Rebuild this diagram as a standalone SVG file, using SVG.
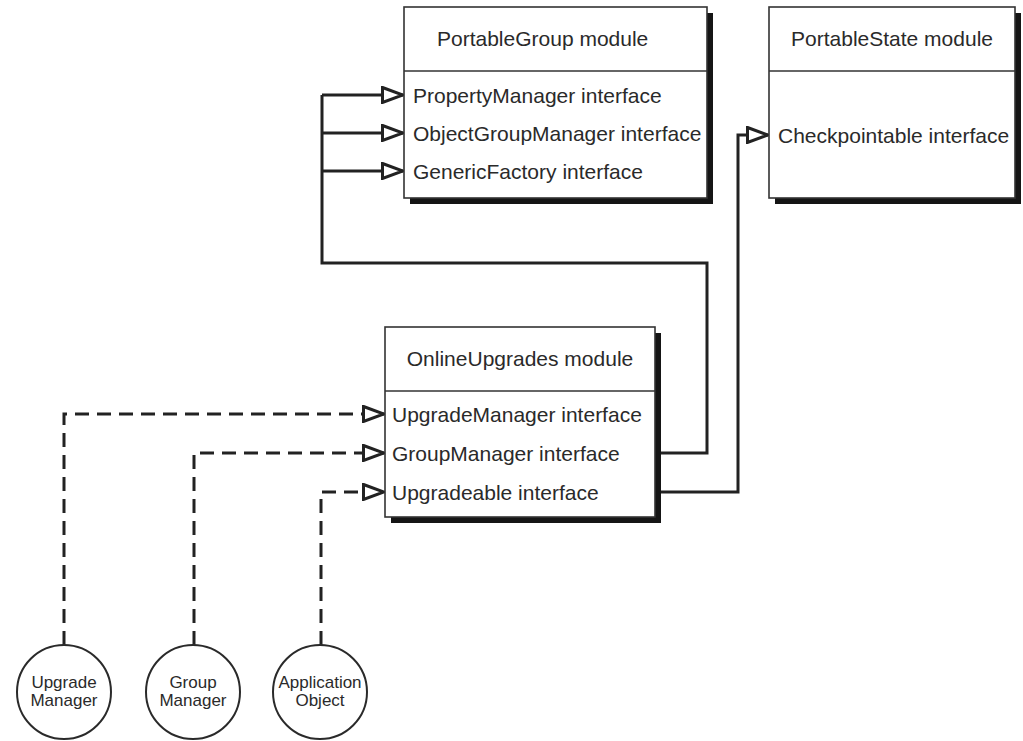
<svg xmlns="http://www.w3.org/2000/svg" width="1023" height="741" viewBox="0 0 1023 741">
<style>
.bg{fill:#ffffff}
.shadow{fill:#151515}
.box{fill:#ffffff;stroke:#333;stroke-width:1.6}
.div{stroke:#333;stroke-width:1.6}
.t{font-family:"Liberation Sans",Arial,Helvetica,sans-serif;font-size:21px;fill:#2a2a2a}
.c{font-family:"Liberation Sans",Arial,Helvetica,sans-serif;font-size:17px;fill:#2a2a2a;text-anchor:middle}
.circ{fill:#ffffff;stroke:#2a2a2a;stroke-width:2}
.solid{fill:none;stroke:#222;stroke-width:3}
.dash{fill:none;stroke:#222;stroke-width:3;stroke-dasharray:14 8}
</style>
<defs>
<marker id="tri" viewBox="0 0 24 18" refX="22" refY="9" markerWidth="24" markerHeight="18" markerUnits="userSpaceOnUse" orient="auto">
<path d="M1.5,1.5 L22,9 L1.5,16.5 Z" fill="#ffffff" stroke="#222" stroke-width="3" stroke-dasharray="none" stroke-linejoin="miter"/>
</marker>
</defs>
<rect class="bg" x="0" y="0" width="1023" height="741"/>

<g id="connectors">
<path class="solid" d="M661,453 H707 V263 H322 V95"/>
<path class="solid" d="M322,95 H403" marker-end="url(#tri)"/>
<path class="solid" d="M322,133 H403" marker-end="url(#tri)"/>
<path class="solid" d="M322,171 H403" marker-end="url(#tri)"/>
<path class="solid" d="M661,492 H738 V135 H768" marker-end="url(#tri)"/>
<path class="dash" d="M64,645 V414 H384" marker-end="url(#tri)"/>
<path class="dash" d="M194,645 V453 H384" marker-end="url(#tri)"/>
<path class="dash" d="M321,645 V492 H384" marker-end="url(#tri)"/>
</g>

<g id="portablegroup">
<rect class="shadow" x="410" y="13" width="303" height="191"/>
<rect class="box" x="404" y="7" width="303" height="191"/>
<line class="div" x1="404" y1="71" x2="707" y2="71"/>
<text class="t" x="437" y="46">PortableGroup module</text>
<text class="t" x="413" y="103">PropertyManager interface</text>
<text class="t" x="413" y="141">ObjectGroupManager interface</text>
<text class="t" x="413" y="179">GenericFactory interface</text>
</g>

<g id="portablestate">
<rect class="shadow" x="775" y="13" width="246" height="191"/>
<rect class="box" x="769" y="7" width="246" height="191"/>
<line class="div" x1="769" y1="71" x2="1015" y2="71"/>
<text class="t" x="892" y="46" text-anchor="middle">PortableState module</text>
<text class="t" x="778" y="143">Checkpointable interface</text>
</g>

<g id="onlineupgrades">
<rect class="shadow" x="391" y="333" width="270" height="190"/>
<rect class="box" x="385" y="327" width="270" height="190"/>
<line class="div" x1="385" y1="391" x2="655" y2="391"/>
<text class="t" x="520" y="366" text-anchor="middle">OnlineUpgrades module</text>
<text class="t" x="392" y="422">UpgradeManager interface</text>
<text class="t" x="392" y="461">GroupManager interface</text>
<text class="t" x="392" y="500">Upgradeable interface</text>
</g>

<g id="upgrademanager">
<circle class="circ" cx="64" cy="692" r="47"/>
<text class="c" x="64" y="688">Upgrade</text>
<text class="c" x="64" y="706">Manager</text>
</g>

<g id="groupmanager">
<circle class="circ" cx="193" cy="692" r="47"/>
<text class="c" x="193" y="688">Group</text>
<text class="c" x="193" y="706">Manager</text>
</g>

<g id="applicationobject">
<circle class="circ" cx="320" cy="692" r="47"/>
<text class="c" x="320" y="688">Application</text>
<text class="c" x="320" y="706">Object</text>
</g>
</svg>
